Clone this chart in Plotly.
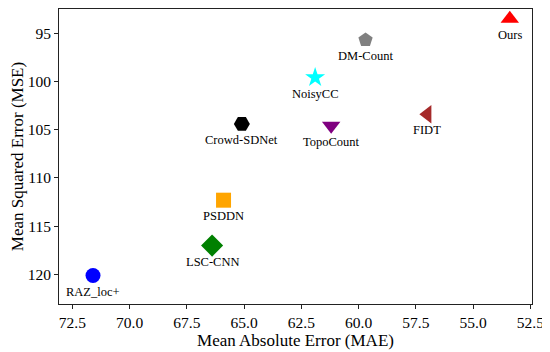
import plotly.graph_objects as go

methods = ["Ours", "DM-Count", "NoisyCC", "Crowd-SDNet", "TopoCount", "FIDT", "PSDDN", "LSC-CNN", "RAZ_loc+"]
mae = [53.4, 59.7, 61.9, 65.1, 61.2, 57.0, 65.9, 66.4, 71.6]
mse = [93.5, 95.7, 99.6, 104.4, 104.6, 103.4, 112.3, 117.0, 120.1]
symbols = ["triangle-up", "pentagon", "star", "hexagon2", "triangle-down", "triangle-left", "square", "diamond", "circle"]
colors = ["#ff0000", "#808080", "#00ffff", "#000000", "#800080", "#a52a2a", "#ffa500", "#008000", "#0000ff"]
sizes = [16, 15, 15, 16, 16, 16, 15, 17, 15]

x_ticks = [72.5, 70.0, 67.5, 65.0, 62.5, 60.0, 57.5, 55.0, 52.5]
y_ticks = [95, 100, 105, 110, 115, 120]

FONT = "Liberation Serif"

fig = go.Figure()
for m, x, y, s, c, sz in zip(methods, mae, mse, symbols, colors, sizes):
    fig.add_trace(go.Scatter(
        x=[x], y=[y], mode="markers", name=m,
        marker=dict(symbol=s, color=c, size=sz, line=dict(width=0)),
        showlegend=False,
    ))
    fig.add_annotation(x=x, y=y, text=m, showarrow=False, yshift=-16,
                       xanchor="center", yanchor="middle",
                       font=dict(family=FONT, size=12.5, color="black"))

axis_common = dict(
    showgrid=False, zeroline=False, showline=True, linecolor="#222", linewidth=1,
    mirror=True, ticks="outside", ticklen=4, tickcolor="#222",
    tickfont=dict(family=FONT, size=15.5, color="black"),
)
fig.update_xaxes(range=[73.085, 52.43], tickvals=x_ticks,
                 ticktext=[f"{v:.1f}" for v in x_ticks],
                 title=dict(text="Mean Absolute Error (MAE)", standoff=1,
                            font=dict(family=FONT, size=17, color="black")),
                 **axis_common)
fig.update_yaxes(range=[123.05, 92.5], tickvals=y_ticks,
                 ticktext=[str(v) for v in y_ticks],
                 title=dict(text="Mean Squared Error (MSE)", standoff=4,
                            font=dict(family=FONT, size=17, color="black")),
                 **axis_common)

# The page body carries an 8px default margin, so the figure is sized to fill the rest
fig.update_layout(
    width=542, height=344,
    margin=dict(l=51, r=18, t=1, b=48),
    plot_bgcolor="white", paper_bgcolor="white",
    font=dict(family=FONT, color="black"),
)
fig.write_html("out.html")
